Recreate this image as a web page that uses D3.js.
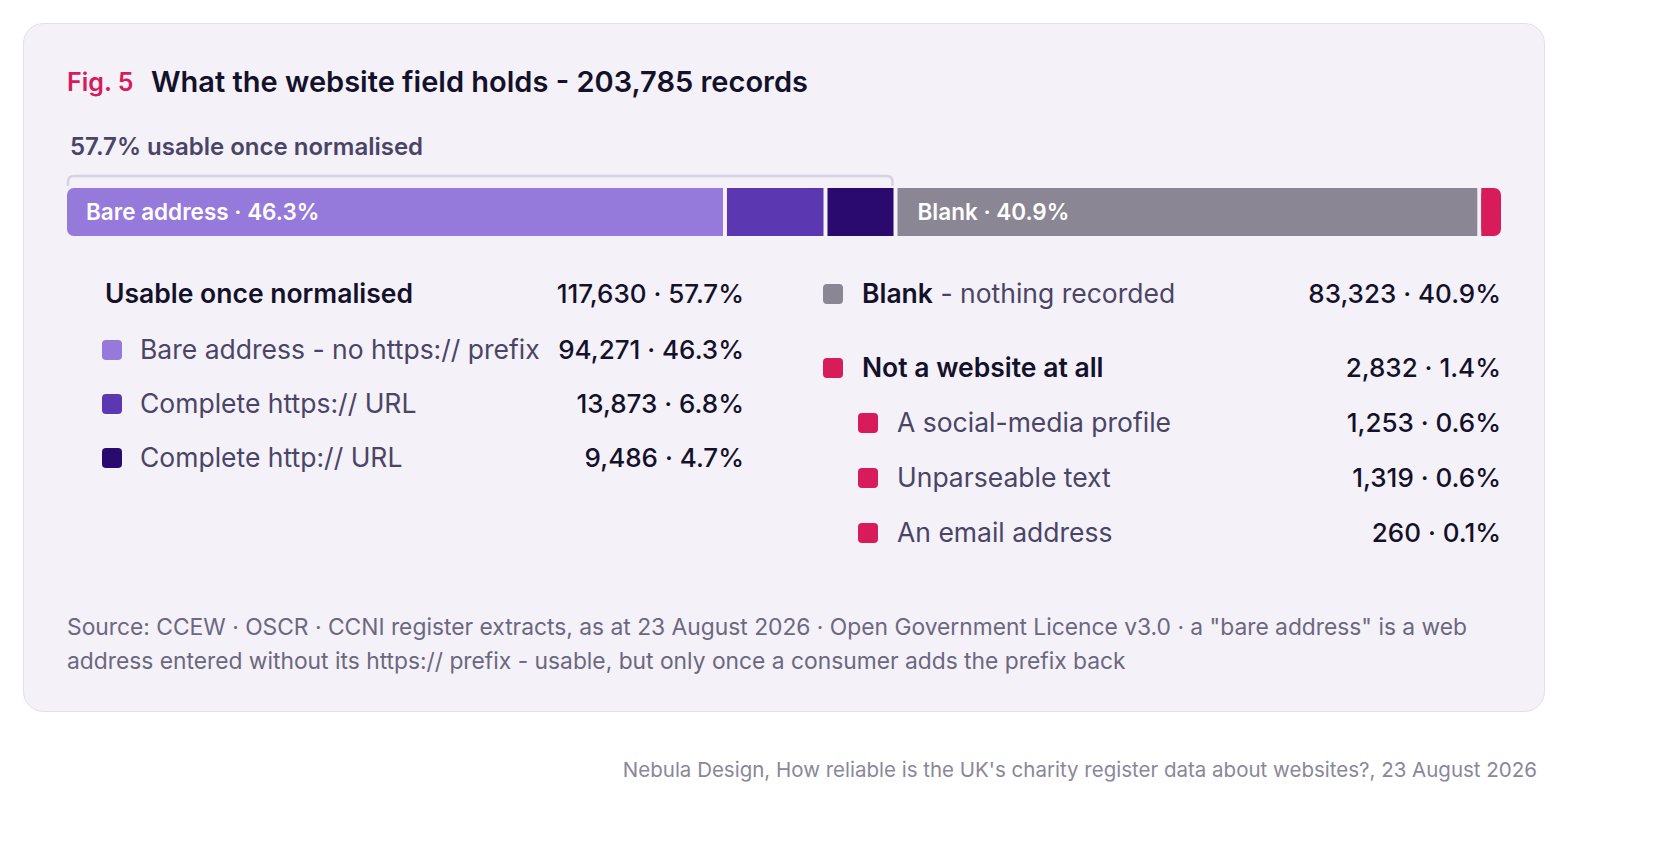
<!DOCTYPE html>
<html><head><meta charset="utf-8">
<script src="https://cdn.jsdelivr.net/npm/d3@7"></script>
<style>body{margin:0;background:#fff;font-family:Inter,"Open Sans",sans-serif}</style>
</head><body><svg id="c" width="1672" height="858"></svg>
<script>
const segLabels=["Bare address","Complete https:// URL","Complete http:// URL","Blank","Not a website at all"];
const segValues=[94271,13873,9486,83323,2832];
const segColors=["#9579db","#5c37b2","#2a0a6e","#8a8694","#d81b5a"];
const usableItems=["Bare address - no https:// prefix","Complete https:// URL","Complete http:// URL"];
const usableValues=["94,271 · 46.3%","13,873 · 6.8%","9,486 · 4.7%"];
const notWebItems=["A social-media profile","Unparseable text","An email address"];
const notWebValues=["1,253 · 0.6%","1,319 · 0.6%","260 · 0.1%"];
const total=203785;

const svg=d3.select("#c");
svg.append("rect").attr("x",23.5).attr("y",23.5).attr("width",1521).attr("height",688).attr("rx",20).attr("fill","#f4f1f8").attr("stroke","#e2dfeb");
svg.append("text").attr("x",67).attr("y",91).attr("font-size",25).attr("font-weight",600).attr("fill","#d81b5a").text("Fig. 5");
svg.append("text").attr("x",151).attr("y",92).attr("font-size",29).attr("font-weight",600).attr("fill","#14112a").text("What the website field holds - 203,785 records");
svg.append("text").attr("x",70).attr("y",155).attr("font-size",24).attr("font-weight",600).attr("fill","#4a4566").text("57.7% usable once normalised");

const gap=4, x0=67, x1=1501;
const x=d3.scaleLinear().domain([0,total]).range([0,x1-x0-gap*(segValues.length-1)]);
let acc=x0; const segs=segValues.map((v,i)=>{const s={x:acc,w:x(v),c:segColors[i]};acc+=x(v)+gap;return s;});
const g=svg.append("g");
segs.forEach((s,i)=>{
  const r=(i===0||i===segs.length-1)?7:0;
  if(r){g.append("rect").attr("x",s.x).attr("y",188).attr("width",s.w).attr("height",48).attr("rx",r).attr("fill",s.c);
    g.append("rect").attr("x",i===0?s.x+r:s.x).attr("y",188).attr("width",s.w-r).attr("height",48).attr("fill",s.c);}
  else g.append("rect").attr("x",s.x).attr("y",188).attr("width",s.w).attr("height",48).attr("fill",s.c);
});
g.append("text").attr("x",segs[0].x+19).attr("y",220).attr("font-size",22.5).attr("font-weight",600).attr("fill","#fff").text("Bare address · 46.3%");
g.append("text").attr("x",segs[3].x+20).attr("y",220).attr("font-size",22.5).attr("font-weight",600).attr("fill","#fff").text("Blank · 40.9%");
const bx1=segs[2].x+segs[2].w;
svg.append("path").attr("d",`M${x0+1},186 V182 Q${x0+1},176 ${x0+7},176 H${bx1-7} Q${bx1-1},176 ${bx1-1},182 V186`).attr("fill","none").attr("stroke","#d6d2e3").attr("stroke-width",2.5);

function row(xs,xl,xr,y,col,label,val,bold,sq){
  if(sq) svg.append("rect").attr("x",xs).attr("y",y-19).attr("width",20).attr("height",20).attr("rx",4).attr("fill",col);
  svg.append("text").attr("x",xl).attr("y",y).attr("font-size",26.5).attr("font-weight",bold?600:400).attr("fill",bold?"#14112a":"#4a4566").text(label);
  svg.append("text").attr("x",xr).attr("y",y).attr("text-anchor","end").attr("font-size",26).attr("font-weight",500).attr("fill","#14112a").text(val);
}
row(0,105,744,303,null,"Usable once normalised","117,630 · 57.7%",true,false);
usableItems.forEach((t,i)=>row(102,140,744,359+i*54,segColors[i],t,usableValues[i],false,true));
const tb=svg.append("text").attr("x",862).attr("y",303).attr("font-size",26.5).attr("fill","#4a4566");
tb.append("tspan").attr("font-weight",600).attr("fill","#14112a").text("Blank");
tb.append("tspan").text(" - nothing recorded");
svg.append("rect").attr("x",823).attr("y",284).attr("width",20).attr("height",20).attr("rx",4).attr("fill",segColors[3]);
svg.append("text").attr("x",1501).attr("y",303).attr("text-anchor","end").attr("font-size",26).attr("font-weight",500).attr("fill","#14112a").text("83,323 · 40.9%");
row(823,862,1501,377,segColors[4],"Not a website at all","2,832 · 1.4%",true,true);
notWebItems.forEach((t,i)=>row(858,897,1501,432+i*55,segColors[4],t,notWebValues[i],false,true));

svg.append("text").attr("x",67).attr("y",635).attr("font-size",22.8).attr("fill","#6b6880").text('Source: CCEW · OSCR · CCNI register extracts, as at 23 August 2026 · Open Government Licence v3.0 · a "bare address" is a web');
svg.append("text").attr("x",67).attr("y",669).attr("font-size",22.8).attr("fill","#6b6880").text("address entered without its https:// prefix - usable, but only once a consumer adds the prefix back");
svg.append("text").attr("x",1537).attr("y",777).attr("text-anchor","end").attr("font-size",20.5).attr("fill","#8a8799").text("Nebula Design, How reliable is the UK's charity register data about websites?, 23 August 2026");
</script></body></html>
